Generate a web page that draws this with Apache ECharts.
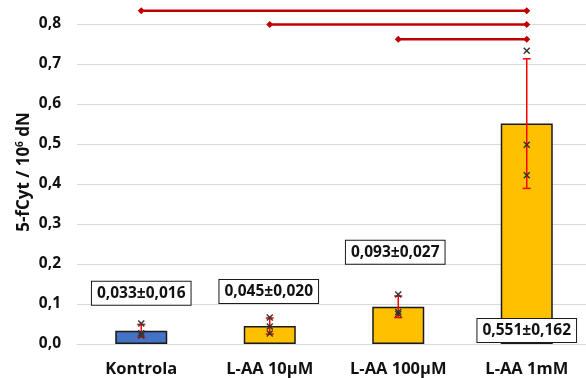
<!DOCTYPE html>
<html>
<head>
<meta charset="utf-8">
<script src="https://cdn.jsdelivr.net/npm/echarts@6/dist/echarts.min.js"></script>
<style>
  html, body { margin: 0; padding: 0; background: #fff; }
  #chart { width: 586px; height: 378px; }
</style>
</head>
<body>
<div id="chart"></div>
<script>
// Groups and measured 5-fCyt levels (per 10^6 dN)
const categories = ['Kontrola', 'L-AA 10µM', 'L-AA 100µM', 'L-AA 1mM'];
const means = [0.033, 0.045, 0.093, 0.551];
const sds = [0.016, 0.020, 0.027, 0.162];
// Individual replicates per group
const replicates = [
  [0.051, 0.027, 0.021],
  [0.066, 0.044, 0.026],
  [0.124, 0.080, 0.075],
  [0.733, 0.498, 0.422]
];
// Significance brackets: [from group, to group, height]
const brackets = [
  [0, 3, 0.833],
  [1, 3, 0.799],
  [2, 3, 0.762]
];
const yTicks = [0, 0.8, 0.1];

const FONT = '"Open Sans", "DejaVu Sans", sans-serif';
const fmt = (v, d) => v.toFixed(d).replace('.', ',');

// Where each value box sits relative to its bar
const labelPlacement = [
  { position: 'top', distance: 26 },
  { position: 'top', distance: 23, offset: [-1, 0] },
  { position: 'top', distance: 43, offset: [-3, 0] },
  { position: 'insideBottom', distance: 2 }
];

const barData = means.map((m, i) => ({
  value: m,
  itemStyle: { color: i === 0 ? '#4472C4' : '#FFC000' },
  label: Object.assign({
    show: true,
    formatter: fmt(m, 3) + '±' + fmt(sds[i], 3)
  }, labelPlacement[i])
}));

const errData = means.map((m, i) => [i, m - sds[i], m + sds[i]]);
const pointData = [];
replicates.forEach((arr, i) => arr.forEach(v => pointData.push([i, v])));

const chart = echarts.init(document.getElementById('chart'));
chart.setOption({
  animation: false,
  backgroundColor: '#fff',
  textStyle: { fontFamily: FONT },
  grid: { left: 77, width: 514, top: 24, height: 320, outerBoundsMode: 'none', containLabel: false },
  xAxis: {
    type: 'category',
    data: categories,
    axisLine: { show: true, lineStyle: { color: '#d9d9d9', width: 1 } },
    axisTick: { show: false },
    axisLabel: { color: '#111', fontFamily: FONT, fontWeight: 'bold', fontSize: 16.5, margin: 17 }
  },
  yAxis: {
    type: 'value',
    min: yTicks[0], max: yTicks[1], interval: yTicks[2],
    axisLine: { show: false },
    axisTick: { show: false },
    splitLine: { lineStyle: { color: '#d9d9d9', width: 1 } },
    axisLabel: {
      color: '#111', fontFamily: FONT, fontWeight: 'bold', fontSize: 15.5, margin: 16,
      formatter: v => fmt(v, 1)
    }
  },
  graphic: [{
    type: 'text',
    rotation: Math.PI / 2,
    style: {
      text: '{b|5-fCyt / 10}{s|6}{b| dN}',
      rich: {
        b: { fontFamily: FONT, fontWeight: 'bold', fontSize: 17, fill: '#111' },
        s: { fontFamily: FONT, fontWeight: 'bold', fontSize: 10, fill: '#111', verticalAlign: 'top', padding: [0, 0, 8, 0] }
      },
      textAlign: 'center', textVerticalAlign: 'middle'
    },
    x: 24, y: 172
  }],
  series: [
    {
      type: 'bar',
      data: barData,
      barWidth: 52,
      itemStyle: { borderColor: '#1a1a1a', borderWidth: 1.5 },
      label: {
        color: '#111', fontFamily: FONT, fontWeight: 'bold', fontSize: 15.5,
        backgroundColor: '#fff', borderColor: '#1a1a1a', borderWidth: 1,
        padding: [4, 5, 3, 5]
      },
      z: 2
    },
    {
      type: 'custom',
      data: errData,
      clip: false,
      z: 3,
      renderItem: (params, api) => {
        const i = api.value(0);
        const lo = api.coord([i, api.value(1)]);
        const hi = api.coord([i, api.value(2)]);
        const w = 4;
        const st = { stroke: '#FF0000', lineWidth: 1.5 };
        return {
          type: 'group',
          children: [
            { type: 'line', shape: { x1: hi[0], y1: hi[1], x2: lo[0], y2: lo[1] }, style: st },
            { type: 'line', shape: { x1: hi[0] - w, y1: hi[1], x2: hi[0] + w, y2: hi[1] }, style: st },
            { type: 'line', shape: { x1: lo[0] - w, y1: lo[1], x2: lo[0] + w, y2: lo[1] }, style: st }
          ]
        };
      }
    },
    {
      type: 'custom',
      data: pointData,
      clip: false,
      z: 4,
      renderItem: (params, api) => {
        const p = api.coord([api.value(0), api.value(1)]);
        const r = 3;
        const st = { stroke: '#333', lineWidth: 1.4 };
        return {
          type: 'group',
          children: [
            { type: 'line', shape: { x1: p[0] - r, y1: p[1] - r, x2: p[0] + r, y2: p[1] + r }, style: st },
            { type: 'line', shape: { x1: p[0] - r, y1: p[1] + r, x2: p[0] + r, y2: p[1] - r }, style: st }
          ]
        };
      }
    },
    {
      type: 'custom',
      data: brackets,
      clip: false,
      z: 5,
      renderItem: (params, api) => {
        const a = api.coord([api.value(0), api.value(2)]);
        const b = api.coord([api.value(1), api.value(2)]);
        const d = 3.5;
        const dia = c => ({
          type: 'polygon',
          shape: { points: [[c[0] - d, c[1]], [c[0], c[1] - d], [c[0] + d, c[1]], [c[0], c[1] + d]] },
          style: { fill: '#C00000' }
        });
        return {
          type: 'group',
          children: [
            { type: 'line', shape: { x1: a[0], y1: a[1], x2: b[0], y2: b[1] }, style: { stroke: '#C00000', lineWidth: 2.5 } },
            dia(a), dia(b)
          ]
        };
      }
    }
  ]
});
</script>
</body>
</html>
